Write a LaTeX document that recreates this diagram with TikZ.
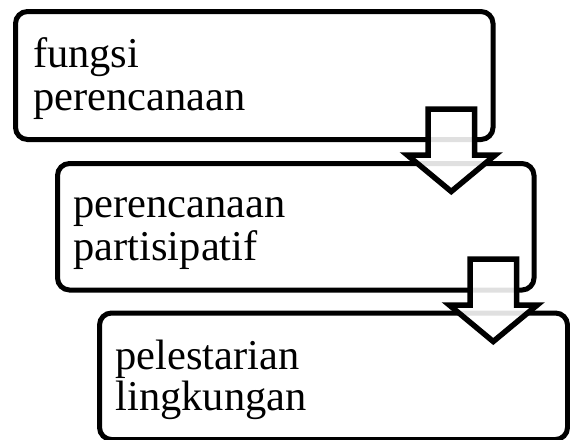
\documentclass[tikz,border=0pt]{standalone}
\usepackage{fontspec}
\setmainfont{Liberation Serif}
\usetikzlibrary{calc}
\tikzset{
  stagebox/.style={draw=black, fill=white, line width=5pt, rounded corners=12pt,
    inner sep=0pt, outer sep=0pt, anchor=north west},
  stagetext/.style={inner sep=0pt, outer sep=0pt, anchor=base west,
    font=\fontsize{42.5}{43}\selectfont},
  blockarrow/.style={draw=black, line width=5.5pt, fill=white, fill opacity=0.88,
    line join=miter},
  pics/downarrow/.style={code={
    \path[blockarrow] (-23.25,0) -- (23.25,0) -- (23.25,-46) -- (44,-46)
      -- (0,-82.5) -- (-44,-46) -- (-23.25,-46) -- cycle;
  }}
}
\begin{document}
\begin{tikzpicture}[x=1pt,y=1pt]
  \useasboundingbox (0,0) rectangle (570,-439);
  \begin{scope}
  \clip (0,0) rectangle (570,-439);
  % stage boxes
  \node[stagebox, minimum width=477.5pt, minimum height=128pt] (box1) at (15.5,-11.5) {};
  \node[stagebox, minimum width=476.5pt, minimum height=126.5pt] (box2) at (57.5,-163.5) {};
  \node[stagebox, minimum width=468pt, minimum height=126.5pt] (box3) at (99.5,-313) {};
  % labels
  \node[stagetext] (t1a) at ($(box1.north west)+(17.5,-55.5)$) {fungsi};
  \node[stagetext] (t1b) at ($(t1a.base west)+(0,-43)$) {perencanaan};
  \node[stagetext] (t2a) at ($(box2.north west)+(16,-54)$) {perencanaan};
  \node[stagetext] (t2b) at ($(t2a.base west)+(0,-43)$) {partisipatif};
  \node[stagetext] (t3a) at ($(box3.north west)+(16,-56)$) {pelestarian};
  \node[stagetext] (t3b) at ($(t3a.base west)+(0,-41.5)$) {lingkungan};
  % arrows between stages
  \coordinate (a1) at ($(box1.south east)+(-41.75,30.5)$);
  \coordinate (a2) at ($(box2.south east)+(-40.75,31)$);
  \pic at (a1) {downarrow};
  \pic at (a2) {downarrow};
  \end{scope}
\end{tikzpicture}
\end{document}
